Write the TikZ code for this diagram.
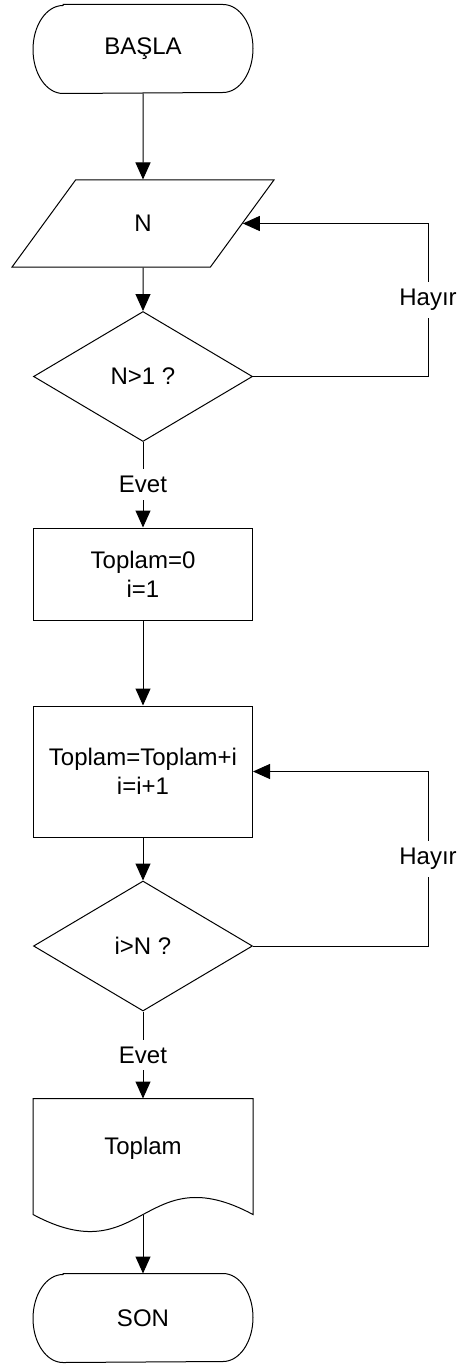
\documentclass[tikz,border=0pt]{standalone}
\usepackage{fontspec}
\setmainfont{Liberation Sans}
\usetikzlibrary{arrows.meta,shapes.geometric}

% elliptic ends of the start/stop boxes
\newcommand{\ucbicim}[1]{%
  \draw ([xshift=15pt]#1.north west) -- ([xshift=-15pt]#1.north east)
    arc[start angle=90, end angle=-90, x radius=15pt, y radius=22pt]
    -- ([xshift=15pt]#1.south west)
    arc[start angle=270, end angle=90, x radius=15pt, y radius=22pt] -- cycle;}

\tikzset{
  yazi/.style={font=\fontsize{12pt}{14.5pt}\selectfont},
  uc/.style={yazi, minimum width=109.5pt, minimum height=44pt, inner sep=0pt},
  girdi/.style={yazi, draw, trapezium, trapezium left angle=63.7, trapezium right angle=116.3,
    trapezium stretches=true, minimum width=131pt, minimum height=43.5pt, inner sep=0pt},
  karar/.style={yazi, draw, diamond, aspect=1.7, minimum width=109.5pt, minimum height=65pt, inner sep=0pt},
  kutu/.style={yazi, draw, rectangle, align=center, minimum width=109.5pt, inner sep=0pt},
  belge/.style={yazi, minimum width=109.5pt, minimum height=49pt, inner sep=0pt},
  ok/.style={line width=0.5pt, -{Triangle[length=8.5pt,width=7.5pt]}},
  etiket/.style={yazi, fill=white, inner sep=3.5pt},
}

\begin{document}
\begin{tikzpicture}[x=0.5pt, y=-0.5pt, line width=0.5pt]
\useasboundingbox (0,0) rectangle (460,1364);
% Start
\node[uc] (basla) at (143,49) {BAŞLA};
\ucbicim{basla}
% Input
\node[girdi] (giris) at (143,223.5) {N};
% First check
\node[karar] (kosul1) at (143,376.5) {N>1 ?};
% Init
\node[kutu, minimum height=46pt] (baslangic) at (143,574) {Toplam=0\\i=1};
% Loop body
\node[kutu, minimum height=65.5pt] (islem) at (143,771.5) {Toplam=Toplam+i\\i=i+1};
% Second check
\node[karar] (kosul2) at (143,946) {i>N ?};
% Output
\node[belge] (yazdir) at (143,1148) {Toplam};
\draw ([yshift=-8.5pt]yazdir.south east) -- (yazdir.north east) -- (yazdir.north west)
  -- ([yshift=-8.5pt]yazdir.south west)
  .. controls ([yshift=-38pt]yazdir.south) and ([yshift=21pt]yazdir.south) .. cycle;
\coordinate (yazdiralt) at ([yshift=-8.5pt]yazdir.south);
% Stop
\node[uc] (son) at (143,1318) {SON};
\ucbicim{son}
% Arrows
\draw[ok] (basla.south) -- (giris.north);
\draw[ok] (giris.south) -- (kosul1.north);
\draw[ok] (kosul1.east) -- ++(175,0) |- (giris.east) node[etiket, pos=0.25] {Hayır};
\draw[ok] (kosul1.south) -- (baslangic.north) node[etiket, midway] {Evet};
\draw[ok] (baslangic.south) -- (islem.north);
\draw[ok] (islem.south) -- (kosul2.north);
\draw[ok] (kosul2.east) -- ++(175,0) |- (islem.east) node[etiket, pos=0.25] {Hayır};
\draw[ok] (kosul2.south) -- (yazdir.north) node[etiket, midway] {Evet};
\draw[ok] (yazdiralt) -- (son.north);
\end{tikzpicture}
\end{document}
